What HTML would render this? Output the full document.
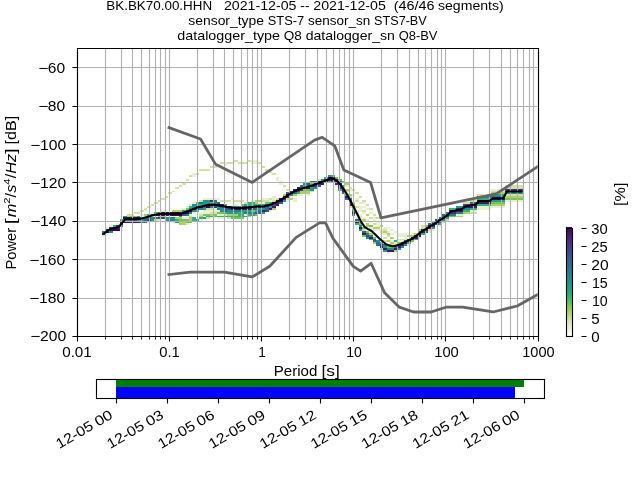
<!DOCTYPE html>
<html lang="en"><head><meta charset="utf-8"><title>PPSD BK.BK70.00.HHN</title>
<style>html,body{margin:0;padding:0;background:#fff;overflow:hidden}svg{display:block;will-change:transform}text{font-family:"Liberation Sans",sans-serif;fill:#000}</style></head><body>
<svg width="640" height="480" viewBox="0 0 640 480">
<rect x="0" y="0" width="640" height="480" fill="#fff"/>
<defs><clipPath id="axclip"><rect x="76.80" y="48.00" width="460.80" height="288.00"/></clipPath></defs>
<g clip-path="url(#axclip)" shape-rendering="crispEdges">
<rect x="234" y="160" width="4" height="2" fill="#d2e2a7"/>
<rect x="248" y="160" width="3" height="2" fill="#d2e2a7"/>
<rect x="251" y="160" width="7" height="2" fill="#e8f0d2"/>
<rect x="220" y="162" width="4" height="2" fill="#d2e2a7"/>
<rect x="224" y="162" width="3" height="2" fill="#e8f0d2"/>
<rect x="227" y="162" width="7" height="2" fill="#d2e2a7"/>
<rect x="238" y="162" width="10" height="2" fill="#d2e2a7"/>
<rect x="251" y="162" width="7" height="2" fill="#e8f0d2"/>
<rect x="258" y="162" width="4" height="2" fill="#d2e2a7"/>
<rect x="217" y="164" width="3" height="2" fill="#d2e2a7"/>
<rect x="224" y="164" width="3" height="2" fill="#e8f0d2"/>
<rect x="210" y="166" width="7" height="2" fill="#d2e2a7"/>
<rect x="262" y="166" width="3" height="2" fill="#d2e2a7"/>
<rect x="199" y="169" width="11" height="2" fill="#d2e2a7"/>
<rect x="265" y="169" width="4" height="2" fill="#d2e2a7"/>
<rect x="269" y="171" width="3" height="2" fill="#d2e2a7"/>
<rect x="192" y="173" width="4" height="2" fill="#e8f0d2"/>
<rect x="196" y="173" width="3" height="2" fill="#d2e2a7"/>
<rect x="272" y="173" width="4" height="2" fill="#d2e2a7"/>
<rect x="189" y="175" width="3" height="2" fill="#d2e2a7"/>
<rect x="192" y="175" width="4" height="2" fill="#e8f0d2"/>
<rect x="328" y="175" width="3" height="2" fill="#228f8c"/>
<rect x="331" y="175" width="4" height="2" fill="#2fb27c"/>
<rect x="276" y="177" width="3" height="2" fill="#e8f0d2"/>
<rect x="324" y="177" width="4" height="2" fill="#2fb27c"/>
<rect x="328" y="177" width="7" height="2" fill="#440154"/>
<rect x="335" y="177" width="3" height="2" fill="#71c655"/>
<rect x="186" y="179" width="3" height="2" fill="#d2e2a7"/>
<rect x="276" y="179" width="3" height="2" fill="#e8f0d2"/>
<rect x="317" y="179" width="4" height="2" fill="#d2e2a7"/>
<rect x="321" y="179" width="3" height="2" fill="#228f8c"/>
<rect x="324" y="179" width="7" height="2" fill="#471668"/>
<rect x="331" y="179" width="4" height="2" fill="#440154"/>
<rect x="335" y="179" width="3" height="2" fill="#471668"/>
<rect x="338" y="179" width="4" height="2" fill="#71c655"/>
<rect x="279" y="181" width="4" height="2" fill="#e8f0d2"/>
<rect x="307" y="181" width="3" height="2" fill="#e8f0d2"/>
<rect x="310" y="181" width="7" height="2" fill="#2f6b8e"/>
<rect x="317" y="181" width="7" height="2" fill="#440154"/>
<rect x="324" y="181" width="4" height="2" fill="#472e7c"/>
<rect x="328" y="181" width="3" height="2" fill="#2fb27c"/>
<rect x="331" y="181" width="4" height="2" fill="#2f6b8e"/>
<rect x="335" y="181" width="3" height="2" fill="#440154"/>
<rect x="338" y="181" width="4" height="2" fill="#38598c"/>
<rect x="342" y="181" width="3" height="2" fill="#71c655"/>
<rect x="182" y="183" width="4" height="2" fill="#d2e2a7"/>
<rect x="279" y="183" width="4" height="2" fill="#e8f0d2"/>
<rect x="303" y="183" width="4" height="2" fill="#228f8c"/>
<rect x="307" y="183" width="3" height="2" fill="#38598c"/>
<rect x="310" y="183" width="4" height="2" fill="#71c655"/>
<rect x="314" y="183" width="3" height="2" fill="#440154"/>
<rect x="317" y="183" width="4" height="2" fill="#472e7c"/>
<rect x="321" y="183" width="3" height="2" fill="#471668"/>
<rect x="335" y="183" width="7" height="2" fill="#472e7c"/>
<rect x="345" y="183" width="4" height="2" fill="#acd264"/>
<rect x="179" y="185" width="3" height="2" fill="#d2e2a7"/>
<rect x="283" y="185" width="3" height="2" fill="#d2e2a7"/>
<rect x="300" y="185" width="3" height="2" fill="#2f6b8e"/>
<rect x="303" y="185" width="4" height="2" fill="#2fb27c"/>
<rect x="307" y="185" width="3" height="2" fill="#228f8c"/>
<rect x="310" y="185" width="4" height="2" fill="#440154"/>
<rect x="314" y="185" width="3" height="2" fill="#472e7c"/>
<rect x="317" y="185" width="4" height="2" fill="#38598c"/>
<rect x="335" y="185" width="3" height="2" fill="#e8f0d2"/>
<rect x="338" y="185" width="4" height="2" fill="#472e7c"/>
<rect x="342" y="185" width="3" height="2" fill="#2fb27c"/>
<rect x="345" y="185" width="4" height="2" fill="#e8f0d2"/>
<rect x="505" y="185" width="18" height="2" fill="#d2e2a7"/>
<rect x="175" y="187" width="4" height="2" fill="#d2e2a7"/>
<rect x="297" y="187" width="3" height="2" fill="#471668"/>
<rect x="300" y="187" width="3" height="2" fill="#287d8e"/>
<rect x="303" y="187" width="7" height="2" fill="#440154"/>
<rect x="310" y="187" width="4" height="2" fill="#20a088"/>
<rect x="314" y="187" width="3" height="2" fill="#228f8c"/>
<rect x="338" y="187" width="7" height="2" fill="#472e7c"/>
<rect x="349" y="187" width="3" height="2" fill="#d2e2a7"/>
<rect x="505" y="187" width="18" height="2" fill="#d2e2a7"/>
<rect x="286" y="189" width="4" height="2" fill="#d2e2a7"/>
<rect x="293" y="189" width="4" height="2" fill="#471668"/>
<rect x="297" y="189" width="3" height="2" fill="#440154"/>
<rect x="300" y="189" width="3" height="2" fill="#472e7c"/>
<rect x="303" y="189" width="7" height="2" fill="#71c655"/>
<rect x="310" y="189" width="4" height="2" fill="#228f8c"/>
<rect x="338" y="189" width="4" height="2" fill="#2fb27c"/>
<rect x="342" y="189" width="3" height="2" fill="#472e7c"/>
<rect x="345" y="189" width="4" height="2" fill="#acd264"/>
<rect x="349" y="189" width="3" height="2" fill="#e8f0d2"/>
<rect x="352" y="189" width="3" height="2" fill="#d2e2a7"/>
<rect x="491" y="189" width="14" height="2" fill="#e8f0d2"/>
<rect x="505" y="189" width="18" height="2" fill="#472e7c"/>
<rect x="172" y="191" width="3" height="1" fill="#d2e2a7"/>
<rect x="290" y="191" width="3" height="1" fill="#472e7c"/>
<rect x="293" y="191" width="4" height="1" fill="#440154"/>
<rect x="297" y="191" width="3" height="1" fill="#38598c"/>
<rect x="300" y="191" width="10" height="1" fill="#acd264"/>
<rect x="310" y="191" width="4" height="1" fill="#d2e2a7"/>
<rect x="342" y="191" width="3" height="1" fill="#471668"/>
<rect x="345" y="191" width="4" height="1" fill="#d2e2a7"/>
<rect x="491" y="191" width="14" height="1" fill="#d2e2a7"/>
<rect x="505" y="191" width="18" height="1" fill="#471668"/>
<rect x="168" y="192" width="4" height="2" fill="#d2e2a7"/>
<rect x="286" y="192" width="4" height="2" fill="#38598c"/>
<rect x="290" y="192" width="3" height="2" fill="#440154"/>
<rect x="293" y="192" width="4" height="2" fill="#2f6b8e"/>
<rect x="297" y="192" width="3" height="2" fill="#2fb27c"/>
<rect x="300" y="192" width="10" height="2" fill="#acd264"/>
<rect x="342" y="192" width="3" height="2" fill="#2f6b8e"/>
<rect x="355" y="192" width="4" height="2" fill="#d2e2a7"/>
<rect x="491" y="192" width="14" height="2" fill="#acd264"/>
<rect x="505" y="192" width="18" height="2" fill="#228f8c"/>
<rect x="283" y="194" width="3" height="2" fill="#acd264"/>
<rect x="286" y="194" width="4" height="2" fill="#440154"/>
<rect x="290" y="194" width="3" height="2" fill="#228f8c"/>
<rect x="293" y="194" width="4" height="2" fill="#acd264"/>
<rect x="297" y="194" width="6" height="2" fill="#e8f0d2"/>
<rect x="307" y="194" width="3" height="2" fill="#e8f0d2"/>
<rect x="345" y="194" width="4" height="2" fill="#71c655"/>
<rect x="349" y="194" width="3" height="2" fill="#acd264"/>
<rect x="352" y="194" width="3" height="2" fill="#e8f0d2"/>
<rect x="477" y="194" width="7" height="2" fill="#d2e2a7"/>
<rect x="491" y="194" width="14" height="2" fill="#20a088"/>
<rect x="505" y="194" width="18" height="2" fill="#d2e2a7"/>
<rect x="165" y="196" width="3" height="2" fill="#d2e2a7"/>
<rect x="272" y="196" width="4" height="2" fill="#e8f0d2"/>
<rect x="283" y="196" width="3" height="2" fill="#440154"/>
<rect x="286" y="196" width="4" height="2" fill="#471668"/>
<rect x="290" y="196" width="3" height="2" fill="#e8f0d2"/>
<rect x="345" y="196" width="4" height="2" fill="#471668"/>
<rect x="349" y="196" width="3" height="2" fill="#d2e2a7"/>
<rect x="359" y="196" width="3" height="2" fill="#d2e2a7"/>
<rect x="477" y="196" width="14" height="2" fill="#287d8e"/>
<rect x="491" y="196" width="14" height="2" fill="#2f6b8e"/>
<rect x="505" y="196" width="18" height="2" fill="#acd264"/>
<rect x="161" y="198" width="4" height="2" fill="#d2e2a7"/>
<rect x="203" y="198" width="17" height="2" fill="#e8f0d2"/>
<rect x="231" y="198" width="3" height="2" fill="#e8f0d2"/>
<rect x="262" y="198" width="7" height="2" fill="#e8f0d2"/>
<rect x="269" y="198" width="3" height="2" fill="#d2e2a7"/>
<rect x="272" y="198" width="4" height="2" fill="#e8f0d2"/>
<rect x="276" y="198" width="3" height="2" fill="#d2e2a7"/>
<rect x="279" y="198" width="4" height="2" fill="#440154"/>
<rect x="283" y="198" width="3" height="2" fill="#472e7c"/>
<rect x="286" y="198" width="4" height="2" fill="#d2e2a7"/>
<rect x="290" y="198" width="3" height="2" fill="#acd264"/>
<rect x="293" y="198" width="4" height="2" fill="#e8f0d2"/>
<rect x="345" y="198" width="4" height="2" fill="#2f6b8e"/>
<rect x="349" y="198" width="3" height="2" fill="#287d8e"/>
<rect x="355" y="198" width="4" height="2" fill="#e8f0d2"/>
<rect x="477" y="198" width="14" height="2" fill="#2fb27c"/>
<rect x="491" y="198" width="14" height="2" fill="#471668"/>
<rect x="505" y="198" width="18" height="2" fill="#71c655"/>
<rect x="158" y="200" width="3" height="2" fill="#d2e2a7"/>
<rect x="199" y="200" width="4" height="2" fill="#d2e2a7"/>
<rect x="203" y="200" width="7" height="2" fill="#228f8c"/>
<rect x="210" y="200" width="3" height="2" fill="#472e7c"/>
<rect x="213" y="200" width="4" height="2" fill="#287d8e"/>
<rect x="220" y="200" width="11" height="2" fill="#d2e2a7"/>
<rect x="234" y="200" width="10" height="2" fill="#d2e2a7"/>
<rect x="251" y="200" width="4" height="2" fill="#e8f0d2"/>
<rect x="255" y="200" width="7" height="2" fill="#acd264"/>
<rect x="262" y="200" width="7" height="2" fill="#d2e2a7"/>
<rect x="269" y="200" width="3" height="2" fill="#e8f0d2"/>
<rect x="272" y="200" width="4" height="2" fill="#d2e2a7"/>
<rect x="276" y="200" width="7" height="2" fill="#440154"/>
<rect x="283" y="200" width="3" height="2" fill="#20a088"/>
<rect x="286" y="200" width="4" height="2" fill="#e8f0d2"/>
<rect x="293" y="200" width="4" height="2" fill="#e8f0d2"/>
<rect x="349" y="200" width="3" height="2" fill="#38598c"/>
<rect x="355" y="200" width="4" height="2" fill="#d2e2a7"/>
<rect x="362" y="200" width="4" height="2" fill="#d2e2a7"/>
<rect x="470" y="200" width="7" height="2" fill="#d2e2a7"/>
<rect x="477" y="200" width="14" height="2" fill="#471668"/>
<rect x="491" y="200" width="14" height="2" fill="#20a088"/>
<rect x="505" y="200" width="18" height="2" fill="#e8f0d2"/>
<rect x="154" y="202" width="4" height="2" fill="#d2e2a7"/>
<rect x="192" y="202" width="4" height="2" fill="#e8f0d2"/>
<rect x="196" y="202" width="3" height="2" fill="#2fb27c"/>
<rect x="199" y="202" width="4" height="2" fill="#2f6b8e"/>
<rect x="203" y="202" width="7" height="2" fill="#20a088"/>
<rect x="210" y="202" width="3" height="2" fill="#71c655"/>
<rect x="213" y="202" width="4" height="2" fill="#228f8c"/>
<rect x="217" y="202" width="3" height="2" fill="#38598c"/>
<rect x="244" y="202" width="4" height="2" fill="#d2e2a7"/>
<rect x="248" y="202" width="7" height="2" fill="#2fb27c"/>
<rect x="255" y="202" width="3" height="2" fill="#acd264"/>
<rect x="258" y="202" width="7" height="2" fill="#e8f0d2"/>
<rect x="265" y="202" width="4" height="2" fill="#71c655"/>
<rect x="269" y="202" width="3" height="2" fill="#2fb27c"/>
<rect x="272" y="202" width="4" height="2" fill="#440154"/>
<rect x="276" y="202" width="3" height="2" fill="#472e7c"/>
<rect x="279" y="202" width="4" height="2" fill="#2f6b8e"/>
<rect x="349" y="202" width="3" height="2" fill="#228f8c"/>
<rect x="352" y="202" width="3" height="2" fill="#acd264"/>
<rect x="359" y="202" width="7" height="2" fill="#e8f0d2"/>
<rect x="463" y="202" width="7" height="2" fill="#d2e2a7"/>
<rect x="470" y="202" width="7" height="2" fill="#2f6b8e"/>
<rect x="477" y="202" width="14" height="2" fill="#471668"/>
<rect x="491" y="202" width="14" height="2" fill="#71c655"/>
<rect x="151" y="204" width="3" height="2" fill="#d2e2a7"/>
<rect x="189" y="204" width="3" height="2" fill="#e8f0d2"/>
<rect x="192" y="204" width="4" height="2" fill="#228f8c"/>
<rect x="196" y="204" width="3" height="2" fill="#20a088"/>
<rect x="199" y="204" width="7" height="2" fill="#2fb27c"/>
<rect x="206" y="204" width="14" height="2" fill="#440154"/>
<rect x="220" y="204" width="4" height="2" fill="#471668"/>
<rect x="224" y="204" width="3" height="2" fill="#2fb27c"/>
<rect x="234" y="204" width="4" height="2" fill="#e8f0d2"/>
<rect x="241" y="204" width="3" height="2" fill="#71c655"/>
<rect x="244" y="204" width="4" height="2" fill="#20a088"/>
<rect x="248" y="204" width="10" height="2" fill="#2fb27c"/>
<rect x="258" y="204" width="7" height="2" fill="#20a088"/>
<rect x="265" y="204" width="7" height="2" fill="#472e7c"/>
<rect x="272" y="204" width="4" height="2" fill="#38598c"/>
<rect x="276" y="204" width="3" height="2" fill="#471668"/>
<rect x="349" y="204" width="3" height="2" fill="#471668"/>
<rect x="352" y="204" width="3" height="2" fill="#71c655"/>
<rect x="366" y="204" width="3" height="2" fill="#d2e2a7"/>
<rect x="463" y="204" width="7" height="2" fill="#414587"/>
<rect x="470" y="204" width="7" height="2" fill="#471668"/>
<rect x="477" y="204" width="14" height="2" fill="#2fb27c"/>
<rect x="491" y="204" width="14" height="2" fill="#acd264"/>
<rect x="147" y="206" width="4" height="2" fill="#d2e2a7"/>
<rect x="186" y="206" width="3" height="2" fill="#e8f0d2"/>
<rect x="189" y="206" width="3" height="2" fill="#2fb27c"/>
<rect x="192" y="206" width="4" height="2" fill="#228f8c"/>
<rect x="196" y="206" width="7" height="2" fill="#440154"/>
<rect x="203" y="206" width="3" height="2" fill="#2f6b8e"/>
<rect x="206" y="206" width="4" height="2" fill="#440154"/>
<rect x="210" y="206" width="3" height="2" fill="#287d8e"/>
<rect x="213" y="206" width="4" height="2" fill="#472e7c"/>
<rect x="217" y="206" width="3" height="2" fill="#2fb27c"/>
<rect x="220" y="206" width="4" height="2" fill="#2f6b8e"/>
<rect x="224" y="206" width="3" height="2" fill="#471668"/>
<rect x="227" y="206" width="4" height="2" fill="#440154"/>
<rect x="231" y="206" width="3" height="2" fill="#2f6b8e"/>
<rect x="234" y="206" width="7" height="2" fill="#228f8c"/>
<rect x="241" y="206" width="24" height="2" fill="#472e7c"/>
<rect x="265" y="206" width="4" height="2" fill="#2f6b8e"/>
<rect x="269" y="206" width="3" height="2" fill="#20a088"/>
<rect x="272" y="206" width="4" height="2" fill="#471668"/>
<rect x="349" y="206" width="3" height="2" fill="#d2e2a7"/>
<rect x="352" y="206" width="3" height="2" fill="#2fb27c"/>
<rect x="355" y="206" width="4" height="2" fill="#d2e2a7"/>
<rect x="359" y="206" width="7" height="2" fill="#e8f0d2"/>
<rect x="456" y="206" width="4" height="2" fill="#20a088"/>
<rect x="460" y="206" width="3" height="2" fill="#228f8c"/>
<rect x="463" y="206" width="14" height="2" fill="#471668"/>
<rect x="477" y="206" width="28" height="2" fill="#e8f0d2"/>
<rect x="144" y="208" width="3" height="2" fill="#d2e2a7"/>
<rect x="182" y="208" width="4" height="2" fill="#e8f0d2"/>
<rect x="186" y="208" width="3" height="2" fill="#71c655"/>
<rect x="189" y="208" width="3" height="2" fill="#287d8e"/>
<rect x="192" y="208" width="4" height="2" fill="#440154"/>
<rect x="196" y="208" width="3" height="2" fill="#38598c"/>
<rect x="199" y="208" width="4" height="2" fill="#287d8e"/>
<rect x="203" y="208" width="3" height="2" fill="#20a088"/>
<rect x="206" y="208" width="7" height="2" fill="#d2e2a7"/>
<rect x="213" y="208" width="4" height="2" fill="#e8f0d2"/>
<rect x="217" y="208" width="3" height="2" fill="#287d8e"/>
<rect x="220" y="208" width="4" height="2" fill="#228f8c"/>
<rect x="224" y="208" width="7" height="2" fill="#38598c"/>
<rect x="231" y="208" width="20" height="2" fill="#471668"/>
<rect x="251" y="208" width="4" height="2" fill="#38598c"/>
<rect x="255" y="208" width="3" height="2" fill="#2f6b8e"/>
<rect x="258" y="208" width="7" height="2" fill="#20a088"/>
<rect x="265" y="208" width="4" height="2" fill="#2f6b8e"/>
<rect x="269" y="208" width="3" height="2" fill="#471668"/>
<rect x="272" y="208" width="4" height="2" fill="#acd264"/>
<rect x="352" y="208" width="3" height="2" fill="#71c655"/>
<rect x="359" y="208" width="3" height="2" fill="#e8f0d2"/>
<rect x="366" y="208" width="3" height="2" fill="#e8f0d2"/>
<rect x="369" y="208" width="4" height="2" fill="#d2e2a7"/>
<rect x="449" y="208" width="7" height="2" fill="#2fb27c"/>
<rect x="456" y="208" width="4" height="2" fill="#472e7c"/>
<rect x="460" y="208" width="3" height="2" fill="#471668"/>
<rect x="463" y="208" width="7" height="2" fill="#228f8c"/>
<rect x="470" y="208" width="7" height="2" fill="#2fb27c"/>
<rect x="477" y="208" width="14" height="2" fill="#e8f0d2"/>
<rect x="140" y="210" width="4" height="2" fill="#d2e2a7"/>
<rect x="161" y="210" width="7" height="2" fill="#e8f0d2"/>
<rect x="172" y="210" width="10" height="2" fill="#acd264"/>
<rect x="182" y="210" width="7" height="2" fill="#228f8c"/>
<rect x="189" y="210" width="3" height="2" fill="#440154"/>
<rect x="192" y="210" width="4" height="2" fill="#228f8c"/>
<rect x="196" y="210" width="3" height="2" fill="#2fb27c"/>
<rect x="203" y="210" width="17" height="2" fill="#e8f0d2"/>
<rect x="220" y="210" width="4" height="2" fill="#228f8c"/>
<rect x="224" y="210" width="3" height="2" fill="#38598c"/>
<rect x="227" y="210" width="7" height="2" fill="#228f8c"/>
<rect x="234" y="210" width="7" height="2" fill="#287d8e"/>
<rect x="241" y="210" width="10" height="2" fill="#20a088"/>
<rect x="251" y="210" width="4" height="2" fill="#71c655"/>
<rect x="255" y="210" width="3" height="2" fill="#2fb27c"/>
<rect x="258" y="210" width="4" height="2" fill="#2f6b8e"/>
<rect x="262" y="210" width="3" height="2" fill="#471668"/>
<rect x="265" y="210" width="4" height="2" fill="#414587"/>
<rect x="269" y="210" width="3" height="2" fill="#e8f0d2"/>
<rect x="352" y="210" width="3" height="2" fill="#228f8c"/>
<rect x="355" y="210" width="7" height="2" fill="#e8f0d2"/>
<rect x="362" y="210" width="4" height="2" fill="#d2e2a7"/>
<rect x="449" y="210" width="14" height="2" fill="#471668"/>
<rect x="463" y="210" width="7" height="2" fill="#2fb27c"/>
<rect x="470" y="210" width="7" height="2" fill="#e8f0d2"/>
<rect x="134" y="212" width="6" height="2" fill="#d2e2a7"/>
<rect x="151" y="212" width="3" height="2" fill="#e8f0d2"/>
<rect x="154" y="212" width="4" height="2" fill="#2fb27c"/>
<rect x="158" y="212" width="3" height="2" fill="#2f6b8e"/>
<rect x="161" y="212" width="18" height="2" fill="#440154"/>
<rect x="179" y="212" width="3" height="2" fill="#471668"/>
<rect x="182" y="212" width="7" height="2" fill="#440154"/>
<rect x="189" y="212" width="3" height="2" fill="#287d8e"/>
<rect x="192" y="212" width="4" height="2" fill="#e8f0d2"/>
<rect x="199" y="212" width="11" height="2" fill="#e8f0d2"/>
<rect x="210" y="212" width="7" height="2" fill="#d2e2a7"/>
<rect x="217" y="212" width="7" height="2" fill="#71c655"/>
<rect x="224" y="212" width="3" height="2" fill="#2fb27c"/>
<rect x="227" y="212" width="11" height="2" fill="#20a088"/>
<rect x="238" y="212" width="6" height="2" fill="#2fb27c"/>
<rect x="244" y="212" width="7" height="2" fill="#287d8e"/>
<rect x="251" y="212" width="4" height="2" fill="#228f8c"/>
<rect x="255" y="212" width="3" height="2" fill="#38598c"/>
<rect x="258" y="212" width="4" height="2" fill="#2f6b8e"/>
<rect x="262" y="212" width="3" height="2" fill="#20a088"/>
<rect x="352" y="212" width="3" height="2" fill="#471668"/>
<rect x="355" y="212" width="4" height="2" fill="#d2e2a7"/>
<rect x="362" y="212" width="4" height="2" fill="#e8f0d2"/>
<rect x="369" y="212" width="4" height="2" fill="#e8f0d2"/>
<rect x="446" y="212" width="3" height="2" fill="#20a088"/>
<rect x="449" y="212" width="7" height="2" fill="#472e7c"/>
<rect x="456" y="212" width="7" height="2" fill="#287d8e"/>
<rect x="463" y="212" width="7" height="2" fill="#acd264"/>
<rect x="470" y="212" width="7" height="2" fill="#d2e2a7"/>
<rect x="127" y="214" width="7" height="2" fill="#d2e2a7"/>
<rect x="140" y="214" width="4" height="2" fill="#e8f0d2"/>
<rect x="144" y="214" width="3" height="2" fill="#acd264"/>
<rect x="147" y="214" width="4" height="2" fill="#2fb27c"/>
<rect x="151" y="214" width="3" height="2" fill="#414587"/>
<rect x="154" y="214" width="28" height="2" fill="#440154"/>
<rect x="182" y="214" width="4" height="2" fill="#38598c"/>
<rect x="186" y="214" width="3" height="2" fill="#287d8e"/>
<rect x="189" y="214" width="3" height="2" fill="#e8f0d2"/>
<rect x="199" y="214" width="4" height="2" fill="#d2e2a7"/>
<rect x="203" y="214" width="7" height="2" fill="#71c655"/>
<rect x="210" y="214" width="3" height="2" fill="#acd264"/>
<rect x="213" y="214" width="4" height="2" fill="#71c655"/>
<rect x="217" y="214" width="7" height="2" fill="#e8f0d2"/>
<rect x="224" y="214" width="3" height="2" fill="#d2e2a7"/>
<rect x="227" y="214" width="11" height="2" fill="#acd264"/>
<rect x="238" y="214" width="6" height="2" fill="#2fb27c"/>
<rect x="244" y="214" width="4" height="2" fill="#e8f0d2"/>
<rect x="248" y="214" width="3" height="2" fill="#2fb27c"/>
<rect x="251" y="214" width="4" height="2" fill="#20a088"/>
<rect x="255" y="214" width="3" height="2" fill="#71c655"/>
<rect x="352" y="214" width="3" height="2" fill="#228f8c"/>
<rect x="359" y="214" width="3" height="2" fill="#e8f0d2"/>
<rect x="366" y="214" width="3" height="2" fill="#acd264"/>
<rect x="373" y="214" width="3" height="2" fill="#d2e2a7"/>
<rect x="442" y="214" width="4" height="2" fill="#2f6b8e"/>
<rect x="446" y="214" width="3" height="2" fill="#471668"/>
<rect x="449" y="214" width="7" height="2" fill="#287d8e"/>
<rect x="456" y="214" width="7" height="2" fill="#e8f0d2"/>
<rect x="120" y="216" width="3" height="1" fill="#e8f0d2"/>
<rect x="123" y="216" width="4" height="1" fill="#20a088"/>
<rect x="127" y="216" width="3" height="1" fill="#acd264"/>
<rect x="130" y="216" width="7" height="1" fill="#71c655"/>
<rect x="137" y="216" width="3" height="1" fill="#228f8c"/>
<rect x="158" y="216" width="7" height="1" fill="#acd264"/>
<rect x="179" y="216" width="3" height="1" fill="#2fb27c"/>
<rect x="189" y="216" width="3" height="1" fill="#d2e2a7"/>
<rect x="199" y="216" width="4" height="1" fill="#acd264"/>
<rect x="206" y="216" width="7" height="1" fill="#2fb27c"/>
<rect x="213" y="216" width="4" height="1" fill="#71c655"/>
<rect x="217" y="216" width="27" height="1" fill="#2fb27c"/>
<rect x="244" y="216" width="4" height="1" fill="#20a088"/>
<rect x="248" y="216" width="3" height="1" fill="#acd264"/>
<rect x="359" y="216" width="3" height="1" fill="#d2e2a7"/>
<rect x="442" y="216" width="4" height="1" fill="#38598c"/>
<rect x="446" y="216" width="3" height="1" fill="#472e7c"/>
<rect x="449" y="216" width="7" height="1" fill="#71c655"/>
<rect x="456" y="216" width="7" height="1" fill="#acd264"/>
<rect x="123" y="217" width="17" height="2" fill="#440154"/>
<rect x="140" y="217" width="7" height="2" fill="#287d8e"/>
<rect x="147" y="217" width="4" height="2" fill="#2f6b8e"/>
<rect x="151" y="217" width="3" height="2" fill="#228f8c"/>
<rect x="154" y="217" width="4" height="2" fill="#2f6b8e"/>
<rect x="158" y="217" width="7" height="2" fill="#414587"/>
<rect x="165" y="217" width="10" height="2" fill="#228f8c"/>
<rect x="175" y="217" width="7" height="2" fill="#acd264"/>
<rect x="182" y="217" width="7" height="2" fill="#e8f0d2"/>
<rect x="189" y="217" width="3" height="2" fill="#acd264"/>
<rect x="192" y="217" width="4" height="2" fill="#2fb27c"/>
<rect x="199" y="217" width="4" height="2" fill="#2fb27c"/>
<rect x="203" y="217" width="3" height="2" fill="#20a088"/>
<rect x="206" y="217" width="4" height="2" fill="#d2e2a7"/>
<rect x="217" y="217" width="7" height="2" fill="#e8f0d2"/>
<rect x="227" y="217" width="4" height="2" fill="#d2e2a7"/>
<rect x="231" y="217" width="13" height="2" fill="#71c655"/>
<rect x="355" y="217" width="11" height="2" fill="#e8f0d2"/>
<rect x="369" y="217" width="4" height="2" fill="#d2e2a7"/>
<rect x="373" y="217" width="3" height="2" fill="#e8f0d2"/>
<rect x="376" y="217" width="4" height="2" fill="#d2e2a7"/>
<rect x="439" y="217" width="3" height="2" fill="#2f6b8e"/>
<rect x="442" y="217" width="4" height="2" fill="#471668"/>
<rect x="446" y="217" width="3" height="2" fill="#20a088"/>
<rect x="120" y="219" width="10" height="2" fill="#20a088"/>
<rect x="130" y="219" width="7" height="2" fill="#2f6b8e"/>
<rect x="137" y="219" width="3" height="2" fill="#2fb27c"/>
<rect x="140" y="219" width="4" height="2" fill="#228f8c"/>
<rect x="144" y="219" width="3" height="2" fill="#2f6b8e"/>
<rect x="147" y="219" width="4" height="2" fill="#414587"/>
<rect x="151" y="219" width="3" height="2" fill="#228f8c"/>
<rect x="154" y="219" width="4" height="2" fill="#d2e2a7"/>
<rect x="158" y="219" width="3" height="2" fill="#e8f0d2"/>
<rect x="165" y="219" width="3" height="2" fill="#20a088"/>
<rect x="168" y="219" width="7" height="2" fill="#228f8c"/>
<rect x="175" y="219" width="4" height="2" fill="#2fb27c"/>
<rect x="179" y="219" width="10" height="2" fill="#71c655"/>
<rect x="189" y="219" width="3" height="2" fill="#acd264"/>
<rect x="192" y="219" width="4" height="2" fill="#2fb27c"/>
<rect x="196" y="219" width="3" height="2" fill="#20a088"/>
<rect x="199" y="219" width="4" height="2" fill="#e8f0d2"/>
<rect x="355" y="219" width="4" height="2" fill="#2f6b8e"/>
<rect x="359" y="219" width="3" height="2" fill="#e8f0d2"/>
<rect x="362" y="219" width="4" height="2" fill="#acd264"/>
<rect x="366" y="219" width="3" height="2" fill="#e8f0d2"/>
<rect x="373" y="219" width="3" height="2" fill="#e8f0d2"/>
<rect x="435" y="219" width="4" height="2" fill="#472e7c"/>
<rect x="439" y="219" width="3" height="2" fill="#471668"/>
<rect x="442" y="219" width="4" height="2" fill="#228f8c"/>
<rect x="446" y="219" width="3" height="2" fill="#d2e2a7"/>
<rect x="120" y="221" width="20" height="2" fill="#471668"/>
<rect x="140" y="221" width="7" height="2" fill="#2f6b8e"/>
<rect x="172" y="221" width="3" height="2" fill="#e8f0d2"/>
<rect x="175" y="221" width="4" height="2" fill="#20a088"/>
<rect x="179" y="221" width="7" height="2" fill="#acd264"/>
<rect x="186" y="221" width="6" height="2" fill="#71c655"/>
<rect x="355" y="221" width="4" height="2" fill="#471668"/>
<rect x="359" y="221" width="3" height="2" fill="#acd264"/>
<rect x="369" y="221" width="4" height="2" fill="#e8f0d2"/>
<rect x="376" y="221" width="4" height="2" fill="#e8f0d2"/>
<rect x="432" y="221" width="3" height="2" fill="#228f8c"/>
<rect x="435" y="221" width="4" height="2" fill="#471668"/>
<rect x="439" y="221" width="3" height="2" fill="#2f6b8e"/>
<rect x="442" y="221" width="4" height="2" fill="#d2e2a7"/>
<rect x="116" y="223" width="4" height="2" fill="#e8f0d2"/>
<rect x="120" y="223" width="3" height="2" fill="#471668"/>
<rect x="179" y="223" width="7" height="2" fill="#acd264"/>
<rect x="186" y="223" width="3" height="2" fill="#e8f0d2"/>
<rect x="355" y="223" width="4" height="2" fill="#2fb27c"/>
<rect x="359" y="223" width="3" height="2" fill="#71c655"/>
<rect x="366" y="223" width="3" height="2" fill="#acd264"/>
<rect x="373" y="223" width="3" height="2" fill="#d2e2a7"/>
<rect x="376" y="223" width="4" height="2" fill="#e8f0d2"/>
<rect x="428" y="223" width="4" height="2" fill="#2f6b8e"/>
<rect x="432" y="223" width="3" height="2" fill="#471668"/>
<rect x="435" y="223" width="4" height="2" fill="#38598c"/>
<rect x="439" y="223" width="3" height="2" fill="#2fb27c"/>
<rect x="109" y="225" width="4" height="2" fill="#e8f0d2"/>
<rect x="113" y="225" width="3" height="2" fill="#2fb27c"/>
<rect x="116" y="225" width="4" height="2" fill="#472e7c"/>
<rect x="120" y="225" width="3" height="2" fill="#2f6b8e"/>
<rect x="359" y="225" width="3" height="2" fill="#228f8c"/>
<rect x="366" y="225" width="3" height="2" fill="#acd264"/>
<rect x="369" y="225" width="4" height="2" fill="#71c655"/>
<rect x="376" y="225" width="4" height="2" fill="#e8f0d2"/>
<rect x="380" y="225" width="3" height="2" fill="#acd264"/>
<rect x="421" y="225" width="4" height="2" fill="#d2e2a7"/>
<rect x="425" y="225" width="3" height="2" fill="#71c655"/>
<rect x="428" y="225" width="7" height="2" fill="#471668"/>
<rect x="439" y="225" width="3" height="2" fill="#e8f0d2"/>
<rect x="106" y="227" width="3" height="2" fill="#e8f0d2"/>
<rect x="109" y="227" width="11" height="2" fill="#472e7c"/>
<rect x="359" y="227" width="3" height="2" fill="#471668"/>
<rect x="362" y="227" width="4" height="2" fill="#71c655"/>
<rect x="369" y="227" width="4" height="2" fill="#e8f0d2"/>
<rect x="373" y="227" width="7" height="2" fill="#acd264"/>
<rect x="383" y="227" width="7" height="2" fill="#e8f0d2"/>
<rect x="421" y="227" width="4" height="2" fill="#d2e2a7"/>
<rect x="425" y="227" width="7" height="2" fill="#471668"/>
<rect x="432" y="227" width="3" height="2" fill="#20a088"/>
<rect x="106" y="229" width="3" height="2" fill="#472e7c"/>
<rect x="109" y="229" width="11" height="2" fill="#440154"/>
<rect x="359" y="229" width="3" height="2" fill="#228f8c"/>
<rect x="362" y="229" width="4" height="2" fill="#d2e2a7"/>
<rect x="373" y="229" width="10" height="2" fill="#e8f0d2"/>
<rect x="383" y="229" width="4" height="2" fill="#d2e2a7"/>
<rect x="390" y="229" width="4" height="2" fill="#e8f0d2"/>
<rect x="418" y="229" width="3" height="2" fill="#acd264"/>
<rect x="421" y="229" width="7" height="2" fill="#471668"/>
<rect x="428" y="229" width="4" height="2" fill="#d2e2a7"/>
<rect x="432" y="229" width="3" height="2" fill="#e8f0d2"/>
<rect x="102" y="231" width="4" height="2" fill="#287d8e"/>
<rect x="106" y="231" width="3" height="2" fill="#440154"/>
<rect x="109" y="231" width="4" height="2" fill="#228f8c"/>
<rect x="362" y="231" width="4" height="2" fill="#38598c"/>
<rect x="366" y="231" width="3" height="2" fill="#71c655"/>
<rect x="380" y="231" width="3" height="2" fill="#d2e2a7"/>
<rect x="383" y="231" width="4" height="2" fill="#acd264"/>
<rect x="387" y="231" width="3" height="2" fill="#e8f0d2"/>
<rect x="394" y="231" width="3" height="2" fill="#e8f0d2"/>
<rect x="418" y="231" width="3" height="2" fill="#287d8e"/>
<rect x="421" y="231" width="4" height="2" fill="#471668"/>
<rect x="425" y="231" width="3" height="2" fill="#38598c"/>
<rect x="428" y="231" width="4" height="2" fill="#e8f0d2"/>
<rect x="102" y="233" width="4" height="2" fill="#440154"/>
<rect x="362" y="233" width="4" height="2" fill="#471668"/>
<rect x="366" y="233" width="3" height="2" fill="#287d8e"/>
<rect x="369" y="233" width="4" height="2" fill="#acd264"/>
<rect x="380" y="233" width="7" height="2" fill="#e8f0d2"/>
<rect x="387" y="233" width="3" height="2" fill="#acd264"/>
<rect x="390" y="233" width="4" height="2" fill="#e8f0d2"/>
<rect x="397" y="233" width="10" height="2" fill="#e8f0d2"/>
<rect x="411" y="233" width="3" height="2" fill="#e8f0d2"/>
<rect x="414" y="233" width="4" height="2" fill="#acd264"/>
<rect x="418" y="233" width="3" height="2" fill="#471668"/>
<rect x="421" y="233" width="4" height="2" fill="#2fb27c"/>
<rect x="102" y="235" width="4" height="2" fill="#e8f0d2"/>
<rect x="362" y="235" width="4" height="2" fill="#71c655"/>
<rect x="366" y="235" width="3" height="2" fill="#414587"/>
<rect x="369" y="235" width="4" height="2" fill="#287d8e"/>
<rect x="387" y="235" width="3" height="2" fill="#d2e2a7"/>
<rect x="397" y="235" width="10" height="2" fill="#e8f0d2"/>
<rect x="407" y="235" width="7" height="2" fill="#acd264"/>
<rect x="414" y="235" width="7" height="2" fill="#471668"/>
<rect x="366" y="237" width="3" height="2" fill="#228f8c"/>
<rect x="369" y="237" width="4" height="2" fill="#471668"/>
<rect x="373" y="237" width="3" height="2" fill="#71c655"/>
<rect x="383" y="237" width="4" height="2" fill="#d2e2a7"/>
<rect x="390" y="237" width="4" height="2" fill="#acd264"/>
<rect x="404" y="237" width="3" height="2" fill="#e8f0d2"/>
<rect x="411" y="237" width="7" height="2" fill="#471668"/>
<rect x="418" y="237" width="3" height="2" fill="#e8f0d2"/>
<rect x="369" y="239" width="4" height="1" fill="#2fb27c"/>
<rect x="373" y="239" width="3" height="1" fill="#38598c"/>
<rect x="397" y="239" width="10" height="1" fill="#d2e2a7"/>
<rect x="407" y="239" width="4" height="1" fill="#471668"/>
<rect x="411" y="239" width="3" height="1" fill="#472e7c"/>
<rect x="414" y="239" width="4" height="1" fill="#2fb27c"/>
<rect x="373" y="240" width="3" height="2" fill="#38598c"/>
<rect x="376" y="240" width="4" height="2" fill="#228f8c"/>
<rect x="383" y="240" width="4" height="2" fill="#d2e2a7"/>
<rect x="387" y="240" width="3" height="2" fill="#acd264"/>
<rect x="390" y="240" width="4" height="2" fill="#e8f0d2"/>
<rect x="394" y="240" width="3" height="2" fill="#2fb27c"/>
<rect x="397" y="240" width="7" height="2" fill="#e8f0d2"/>
<rect x="404" y="240" width="3" height="2" fill="#38598c"/>
<rect x="407" y="240" width="4" height="2" fill="#471668"/>
<rect x="411" y="240" width="3" height="2" fill="#71c655"/>
<rect x="373" y="242" width="3" height="2" fill="#acd264"/>
<rect x="376" y="242" width="4" height="2" fill="#2f6b8e"/>
<rect x="380" y="242" width="3" height="2" fill="#2fb27c"/>
<rect x="390" y="242" width="4" height="2" fill="#acd264"/>
<rect x="394" y="242" width="3" height="2" fill="#e8f0d2"/>
<rect x="397" y="242" width="4" height="2" fill="#71c655"/>
<rect x="401" y="242" width="3" height="2" fill="#287d8e"/>
<rect x="404" y="242" width="3" height="2" fill="#471668"/>
<rect x="407" y="242" width="4" height="2" fill="#2fb27c"/>
<rect x="376" y="244" width="4" height="2" fill="#2f6b8e"/>
<rect x="380" y="244" width="3" height="2" fill="#472e7c"/>
<rect x="383" y="244" width="4" height="2" fill="#287d8e"/>
<rect x="387" y="244" width="7" height="2" fill="#d2e2a7"/>
<rect x="394" y="244" width="3" height="2" fill="#acd264"/>
<rect x="397" y="244" width="4" height="2" fill="#472e7c"/>
<rect x="401" y="244" width="3" height="2" fill="#471668"/>
<rect x="404" y="244" width="3" height="2" fill="#228f8c"/>
<rect x="407" y="244" width="4" height="2" fill="#e8f0d2"/>
<rect x="380" y="246" width="3" height="2" fill="#471668"/>
<rect x="383" y="246" width="4" height="2" fill="#228f8c"/>
<rect x="387" y="246" width="7" height="2" fill="#71c655"/>
<rect x="394" y="246" width="3" height="2" fill="#2f6b8e"/>
<rect x="397" y="246" width="4" height="2" fill="#471668"/>
<rect x="401" y="246" width="3" height="2" fill="#228f8c"/>
<rect x="380" y="248" width="3" height="2" fill="#d2e2a7"/>
<rect x="383" y="248" width="4" height="2" fill="#471668"/>
<rect x="387" y="248" width="7" height="2" fill="#228f8c"/>
<rect x="394" y="248" width="3" height="2" fill="#471668"/>
<rect x="397" y="248" width="4" height="2" fill="#228f8c"/>
<rect x="383" y="250" width="4" height="2" fill="#20a088"/>
<rect x="387" y="250" width="7" height="2" fill="#471668"/>
<rect x="394" y="250" width="3" height="2" fill="#acd264"/>
<rect x="387" y="252" width="3" height="2" fill="#e8f0d2"/>
</g>
<path d="M77.5 48.0V336.0M105.5 48.0V336.0M121.5 48.0V336.0M132.5 48.0V336.0M141.5 48.0V336.0M149.5 48.0V336.0M155.5 48.0V336.0M160.5 48.0V336.0M165.5 48.0V336.0M169.5 48.0V336.0M197.5 48.0V336.0M213.5 48.0V336.0M224.5 48.0V336.0M233.5 48.0V336.0M241.5 48.0V336.0M247.5 48.0V336.0M252.5 48.0V336.0M257.5 48.0V336.0M261.5 48.0V336.0M289.5 48.0V336.0M305.5 48.0V336.0M317.5 48.0V336.0M326.5 48.0V336.0M333.5 48.0V336.0M339.5 48.0V336.0M344.5 48.0V336.0M349.5 48.0V336.0M353.5 48.0V336.0M381.5 48.0V336.0M397.5 48.0V336.0M409.5 48.0V336.0M418.5 48.0V336.0M425.5 48.0V336.0M431.5 48.0V336.0M437.5 48.0V336.0M441.5 48.0V336.0M445.5 48.0V336.0M473.5 48.0V336.0M489.5 48.0V336.0M501.5 48.0V336.0M510.5 48.0V336.0M517.5 48.0V336.0M523.5 48.0V336.0M529.5 48.0V336.0M533.5 48.0V336.0M538.5 48.0V336.0M76.8 336.5H537.6M76.8 298.5H537.6M76.8 259.5H537.6M76.8 221.5H537.6M76.8 182.5H537.6M76.8 144.5H537.6M76.8 106.5H537.6M76.8 67.5H537.6" stroke="#b0b0b0" stroke-width="1.111" fill="none"/>
<g clip-path="url(#axclip)" fill="none" stroke-linejoin="round">
<polyline points="104.54,233.09 108.01,230.40 111.48,228.67 114.95,227.90 118.41,227.33 121.88,223.10 125.35,219.26 128.82,219.26 132.29,219.26 135.75,219.17 139.22,218.88 142.69,218.30 146.16,217.15 149.63,216.19 153.09,215.23 156.56,214.46 160.03,213.98 163.50,213.89 166.96,213.89 170.43,213.89 173.90,213.89 177.37,213.89 180.84,213.89 184.30,212.54 187.77,211.20 191.24,209.86 194.71,208.51 198.18,207.17 201.64,206.40 205.11,205.44 208.58,204.86 212.05,204.48 215.51,204.67 218.98,205.63 222.45,206.02 225.92,206.78 229.39,207.36 232.85,207.74 236.32,208.13 239.79,208.13 243.26,207.94 246.73,207.65 250.19,207.17 253.66,206.78 257.13,206.21 260.60,206.50 264.06,206.21 267.53,205.54 271.00,204.58 274.47,203.14 277.94,201.50 281.40,199.49 284.87,197.28 288.34,194.88 291.81,192.96 295.28,191.04 298.74,189.50 302.21,188.35 305.68,187.39 309.15,186.24 312.61,185.28 316.08,184.13 319.55,182.88 323.02,181.63 326.49,180.29 329.95,178.56 333.42,178.56 336.89,180.86 340.36,184.51 343.83,189.31 347.29,194.88 350.76,201.41 354.23,207.94 357.70,215.04 361.16,221.95 364.63,226.94 368.10,229.15 371.57,230.98 375.04,234.24 378.50,237.70 381.97,240.77 385.44,243.84 388.91,245.38 392.38,246.24 395.84,245.76 399.31,244.80 402.78,243.07 406.25,241.54 409.72,239.81 413.18,237.89 416.65,235.58 420.12,232.70 423.59,230.40 427.05,228.48 430.52,225.98 433.99,224.06 437.46,221.76 440.93,219.65 444.39,217.34 447.86,214.66 451.33,211.20 454.80,210.82 458.27,209.86 461.73,209.28 465.20,206.59 468.67,205.82 472.14,205.06 475.60,204.48 479.07,201.12 482.54,200.93 486.01,200.93 489.48,200.93 492.94,198.34 496.41,198.34 499.88,198.34 503.35,198.34 506.82,191.42 510.28,191.42 513.75,191.42 517.22,191.42 520.69,191.42" stroke="#000" stroke-width="2.083" stroke-linecap="square"/>
<polyline points="168.96,127.68 200.52,139.02 215.51,164.16 252.19,182.40 314.55,140.16 322.20,137.28 334.79,145.92 343.85,169.91 370.56,182.40 381.02,217.91 496.13,193.93 629.76,105.87" stroke="#666" stroke-width="2.778" stroke-linecap="square"/>
<polyline points="168.96,274.56 190.20,272.06 224.45,272.06 252.19,276.87 269.73,266.30 296.16,237.40 319.50,222.91 325.54,222.90 332.83,238.08 353.28,266.40 360.58,271.19 371.08,263.29 384.66,292.81 399.33,307.19 413.48,312.00 431.16,312.00 445.84,307.20 462.72,307.18 492.98,311.98 517.15,306.01 629.76,243.61" stroke="#666" stroke-width="2.778" stroke-linecap="square"/>
</g>
<path d="M77.5 47.945V337.055M538.5 47.945V337.055M76.945 48.5H539.055M76.945 336.5H539.055M77.5 336.50V341.50M169.5 336.50V341.50M261.5 336.50V341.50M353.5 336.50V341.50M445.5 336.50V341.50M538.5 336.50V341.50M72.44 336.5H77.30M72.44 298.5H77.30M72.44 259.5H77.30M72.44 221.5H77.30M72.44 182.5H77.30M72.44 144.5H77.30M72.44 106.5H77.30M72.44 67.5H77.30" stroke="#000" stroke-width="1.111" fill="none"/>
<path d="M105.5 336.50V339.50M121.5 336.50V339.50M132.5 336.50V339.50M141.5 336.50V339.50M149.5 336.50V339.50M155.5 336.50V339.50M160.5 336.50V339.50M165.5 336.50V339.50M197.5 336.50V339.50M213.5 336.50V339.50M224.5 336.50V339.50M233.5 336.50V339.50M241.5 336.50V339.50M247.5 336.50V339.50M252.5 336.50V339.50M257.5 336.50V339.50M289.5 336.50V339.50M305.5 336.50V339.50M317.5 336.50V339.50M326.5 336.50V339.50M333.5 336.50V339.50M339.5 336.50V339.50M344.5 336.50V339.50M349.5 336.50V339.50M381.5 336.50V339.50M397.5 336.50V339.50M409.5 336.50V339.50M418.5 336.50V339.50M425.5 336.50V339.50M431.5 336.50V339.50M437.5 336.50V339.50M441.5 336.50V339.50M473.5 336.50V339.50M489.5 336.50V339.50M501.5 336.50V339.50M510.5 336.50V339.50M517.5 336.50V339.50M523.5 336.50V339.50M529.5 336.50V339.50M533.5 336.50V339.50" stroke="#000" stroke-width="0.833" fill="none"/>
<defs><linearGradient id="cb" x1="0" y1="1" x2="0" y2="0">
<stop offset="0.0000" stop-color="#ffffff"/>
<stop offset="0.0167" stop-color="#fafcf4"/>
<stop offset="0.0333" stop-color="#f5f9e8"/>
<stop offset="0.0500" stop-color="#eff5df"/>
<stop offset="0.0667" stop-color="#eaf1d5"/>
<stop offset="0.0833" stop-color="#e5eecd"/>
<stop offset="0.1000" stop-color="#e1ebc5"/>
<stop offset="0.1167" stop-color="#dce8bb"/>
<stop offset="0.1333" stop-color="#d6e4af"/>
<stop offset="0.1500" stop-color="#d1e1a4"/>
<stop offset="0.1667" stop-color="#c9dd94"/>
<stop offset="0.1833" stop-color="#c0d983"/>
<stop offset="0.2000" stop-color="#b7d571"/>
<stop offset="0.2167" stop-color="#add264"/>
<stop offset="0.2333" stop-color="#a2cf58"/>
<stop offset="0.2500" stop-color="#98cc4c"/>
<stop offset="0.2667" stop-color="#88ca4e"/>
<stop offset="0.2833" stop-color="#78c752"/>
<stop offset="0.3000" stop-color="#66c45a"/>
<stop offset="0.3167" stop-color="#53c162"/>
<stop offset="0.3333" stop-color="#42bc6e"/>
<stop offset="0.3500" stop-color="#34b67a"/>
<stop offset="0.3667" stop-color="#2db17d"/>
<stop offset="0.3833" stop-color="#27ac81"/>
<stop offset="0.4000" stop-color="#22a784"/>
<stop offset="0.4167" stop-color="#21a486"/>
<stop offset="0.4333" stop-color="#20a088"/>
<stop offset="0.4500" stop-color="#1f9c89"/>
<stop offset="0.4667" stop-color="#20998a"/>
<stop offset="0.4833" stop-color="#20958b"/>
<stop offset="0.5000" stop-color="#21918c"/>
<stop offset="0.5167" stop-color="#228d8d"/>
<stop offset="0.5333" stop-color="#24888d"/>
<stop offset="0.5500" stop-color="#25848e"/>
<stop offset="0.5667" stop-color="#27808e"/>
<stop offset="0.5833" stop-color="#287c8e"/>
<stop offset="0.6000" stop-color="#2a788e"/>
<stop offset="0.6167" stop-color="#2c748e"/>
<stop offset="0.6333" stop-color="#2d708e"/>
<stop offset="0.6500" stop-color="#2f6c8e"/>
<stop offset="0.6667" stop-color="#31688e"/>
<stop offset="0.6833" stop-color="#33638d"/>
<stop offset="0.7000" stop-color="#355f8d"/>
<stop offset="0.7167" stop-color="#375b8c"/>
<stop offset="0.7333" stop-color="#39568c"/>
<stop offset="0.7500" stop-color="#3b528b"/>
<stop offset="0.7667" stop-color="#3d4d8a"/>
<stop offset="0.7833" stop-color="#3f4988"/>
<stop offset="0.8000" stop-color="#414487"/>
<stop offset="0.8167" stop-color="#433f85"/>
<stop offset="0.8333" stop-color="#443982"/>
<stop offset="0.8500" stop-color="#463480"/>
<stop offset="0.8667" stop-color="#472f7c"/>
<stop offset="0.8833" stop-color="#472979"/>
<stop offset="0.9000" stop-color="#482475"/>
<stop offset="0.9167" stop-color="#481e70"/>
<stop offset="0.9333" stop-color="#47196a"/>
<stop offset="0.9500" stop-color="#471365"/>
<stop offset="0.9667" stop-color="#460d5f"/>
<stop offset="0.9833" stop-color="#45075a"/>
<stop offset="1.0000" stop-color="#440154"/>
</linearGradient></defs>
<rect x="566.00" y="227.00" width="6.00" height="109.00" fill="url(#cb)" shape-rendering="crispEdges"/>
<rect x="566.50" y="228.50" width="6.00" height="108.00" fill="none" stroke="#000" stroke-width="1.111"/>
<path d="M581.50 336.5H586.50M581.50 318.5H586.50M581.50 300.5H586.50M581.50 282.5H586.50M581.50 264.5H586.50M581.50 246.5H586.50M581.50 228.5H586.50" stroke="#000" stroke-width="1.111" fill="none"/>
<rect x="116" y="380" width="408" height="7" fill="#008000" shape-rendering="crispEdges"/>
<rect x="116" y="387" width="399" height="11" fill="#0000ff" shape-rendering="crispEdges"/>
<rect x="96.5" y="379.5" width="448" height="19" fill="none" stroke="#000" stroke-width="1.111"/>
<path d="M116.5 399.00V403.50M167.5 399.00V403.50M218.5 399.00V403.50M269.5 399.00V403.50M320.5 399.00V403.50M371.5 399.00V403.50M422.5 399.00V403.50M473.5 399.00V403.50M524.5 399.00V403.50" stroke="#000" stroke-width="1.111" fill="none"/>
<text x="106.30" y="9.70" font-size="12.70"><tspan x="106.30" textLength="105.82" lengthAdjust="spacingAndGlyphs">BK.BK70.00.HHN</tspan><tspan x="223.92" textLength="72.58" lengthAdjust="spacingAndGlyphs">2021-12-05</tspan><tspan x="300.30" textLength="9.20" lengthAdjust="spacingAndGlyphs">--</tspan><tspan x="313.30" textLength="72.58" lengthAdjust="spacingAndGlyphs">2021-12-05</tspan><tspan x="393.68" textLength="40.82" lengthAdjust="spacingAndGlyphs">(46/46</tspan><tspan x="438.00" textLength="65.75" lengthAdjust="spacingAndGlyphs">segments)</tspan></text>
<text x="188.30" y="25.00" font-size="12.70"><tspan x="188.30" textLength="75.70" lengthAdjust="spacingAndGlyphs">sensor_type</tspan><tspan x="267.80" textLength="36.45" lengthAdjust="spacingAndGlyphs">STS-7</tspan><tspan x="308.05" textLength="62.20" lengthAdjust="spacingAndGlyphs">sensor_sn</tspan><tspan x="374.05" textLength="52.70" lengthAdjust="spacingAndGlyphs">STS7-BV</tspan></text>
<text x="177.30" y="39.80" font-size="12.70"><tspan x="177.30" textLength="102.70" lengthAdjust="spacingAndGlyphs">datalogger_type</tspan><tspan x="283.80" textLength="18.08" lengthAdjust="spacingAndGlyphs">Q8</tspan><tspan x="305.68" textLength="89.20" lengthAdjust="spacingAndGlyphs">datalogger_sn</tspan><tspan x="398.68" textLength="38.82" lengthAdjust="spacingAndGlyphs">Q8-BV</tspan></text>
<text x="273.80" y="376.00" font-size="14.10"><tspan x="273.80" textLength="43.58" lengthAdjust="spacingAndGlyphs">Period</tspan><tspan x="321.55" textLength="18.32" lengthAdjust="spacingAndGlyphs">[s]</tspan></text>
<text x="62.20" y="357.00" font-size="14.10" textLength="29.60" lengthAdjust="spacingAndGlyphs" xml:space="preserve">0.01</text>
<text x="159.20" y="357.00" font-size="14.10" textLength="20.60" lengthAdjust="spacingAndGlyphs" xml:space="preserve">0.1</text>
<text x="258.20" y="357.00" font-size="14.10" textLength="7.60" lengthAdjust="spacingAndGlyphs" xml:space="preserve">1</text>
<text x="346.20" y="357.00" font-size="14.10" textLength="15.60" lengthAdjust="spacingAndGlyphs" xml:space="preserve">10</text>
<text x="434.20" y="357.00" font-size="14.10" textLength="24.60" lengthAdjust="spacingAndGlyphs" xml:space="preserve">100</text>
<text x="522.20" y="357.00" font-size="14.10" textLength="32.40" lengthAdjust="spacingAndGlyphs" xml:space="preserve">1000</text>
<text x="0.00" y="73.00" font-size="14.10"><tspan x="38.19" textLength="10.00" lengthAdjust="spacingAndGlyphs">−</tspan><tspan x="47.83" textLength="17.37" lengthAdjust="spacingAndGlyphs">60</tspan></text>
<text x="0.00" y="111.00" font-size="14.10"><tspan x="38.19" textLength="10.00" lengthAdjust="spacingAndGlyphs">−</tspan><tspan x="47.83" textLength="17.37" lengthAdjust="spacingAndGlyphs">80</tspan></text>
<text x="0.00" y="150.00" font-size="14.10"><tspan x="30.36" textLength="10.00" lengthAdjust="spacingAndGlyphs">−</tspan><tspan x="40.00" textLength="26.20" lengthAdjust="spacingAndGlyphs">100</tspan></text>
<text x="0.00" y="188.00" font-size="14.10"><tspan x="30.36" textLength="10.00" lengthAdjust="spacingAndGlyphs">−</tspan><tspan x="40.00" textLength="26.20" lengthAdjust="spacingAndGlyphs">120</tspan></text>
<text x="0.00" y="226.00" font-size="14.10"><tspan x="30.36" textLength="10.00" lengthAdjust="spacingAndGlyphs">−</tspan><tspan x="40.00" textLength="26.20" lengthAdjust="spacingAndGlyphs">140</tspan></text>
<text x="0.00" y="265.00" font-size="14.10"><tspan x="29.36" textLength="10.00" lengthAdjust="spacingAndGlyphs">−</tspan><tspan x="39.00" textLength="26.20" lengthAdjust="spacingAndGlyphs">160</tspan></text>
<text x="0.00" y="303.00" font-size="14.10"><tspan x="29.36" textLength="10.00" lengthAdjust="spacingAndGlyphs">−</tspan><tspan x="39.00" textLength="26.20" lengthAdjust="spacingAndGlyphs">180</tspan></text>
<text x="0.00" y="341.00" font-size="14.10"><tspan x="30.36" textLength="10.00" lengthAdjust="spacingAndGlyphs">−</tspan><tspan x="40.00" textLength="26.20" lengthAdjust="spacingAndGlyphs">200</tspan></text>
<text x="591.30" y="342.00" font-size="14.10" textLength="8.40" lengthAdjust="spacingAndGlyphs" xml:space="preserve">0</text>
<text x="591.30" y="324.00" font-size="14.10" textLength="8.40" lengthAdjust="spacingAndGlyphs" xml:space="preserve">5</text>
<text x="591.90" y="306.00" font-size="14.10" textLength="15.80" lengthAdjust="spacingAndGlyphs" xml:space="preserve">10</text>
<text x="591.90" y="288.00" font-size="14.10" textLength="15.80" lengthAdjust="spacingAndGlyphs" xml:space="preserve">15</text>
<text x="591.30" y="270.00" font-size="14.10" textLength="17.40" lengthAdjust="spacingAndGlyphs" xml:space="preserve">20</text>
<text x="591.30" y="252.00" font-size="14.10" textLength="16.40" lengthAdjust="spacingAndGlyphs" xml:space="preserve">25</text>
<text x="591.30" y="234.00" font-size="14.10" textLength="16.40" lengthAdjust="spacingAndGlyphs" xml:space="preserve">30</text>
<text x="15.60" y="269.40" font-size="14.30" transform="rotate(-90.00 15.60 269.40)"><tspan x="15.60" textLength="41.55" lengthAdjust="spacingAndGlyphs">Power</tspan><tspan x="60.82" textLength="5.96" lengthAdjust="spacingAndGlyphs">[</tspan></text>
<text x="15.60" y="217.30" font-size="14.30" textLength="63.50" lengthAdjust="spacingAndGlyphs" transform="rotate(-90.00 15.60 217.30)" xml:space="preserve"><tspan font-style="italic">m</tspan><tspan font-size="9.9" dy="-5.4">2</tspan><tspan dy="5.4">/</tspan><tspan font-style="italic">s</tspan><tspan font-size="9.9" dy="-5.4">4</tspan><tspan dy="5.4">/</tspan><tspan font-style="italic">Hz</tspan></text>
<text x="15.60" y="153.90" font-size="14.30" transform="rotate(-90.00 15.60 153.90)"><tspan x="15.60" textLength="5.82" lengthAdjust="spacingAndGlyphs">]</tspan><tspan x="24.99" textLength="28.62" lengthAdjust="spacingAndGlyphs">[dB]</tspan></text>
<text x="624.60" y="206.00" font-size="14.10" textLength="23.40" lengthAdjust="spacingAndGlyphs" transform="rotate(-90.00 624.60 206.00)" xml:space="preserve">[%]</text>
<text x="50.96" y="417.65" font-size="14.10" transform="rotate(-30.00 113.66 417.65)"><tspan x="50.96" textLength="40.60" lengthAdjust="spacingAndGlyphs">12-05</tspan><tspan x="95.56" textLength="18.20" lengthAdjust="spacingAndGlyphs">00</tspan></text>
<text x="101.87" y="417.65" font-size="14.10" transform="rotate(-30.00 164.57 417.65)"><tspan x="101.87" textLength="40.60" lengthAdjust="spacingAndGlyphs">12-05</tspan><tspan x="146.47" textLength="18.20" lengthAdjust="spacingAndGlyphs">03</tspan></text>
<text x="152.78" y="417.65" font-size="14.10" transform="rotate(-30.00 215.48 417.65)"><tspan x="152.78" textLength="40.60" lengthAdjust="spacingAndGlyphs">12-05</tspan><tspan x="197.38" textLength="18.20" lengthAdjust="spacingAndGlyphs">06</tspan></text>
<text x="203.69" y="417.65" font-size="14.10" transform="rotate(-30.00 266.39 417.65)"><tspan x="203.69" textLength="40.60" lengthAdjust="spacingAndGlyphs">12-05</tspan><tspan x="248.29" textLength="18.20" lengthAdjust="spacingAndGlyphs">09</tspan></text>
<text x="254.60" y="417.65" font-size="14.10" transform="rotate(-30.00 317.30 417.65)"><tspan x="254.60" textLength="40.60" lengthAdjust="spacingAndGlyphs">12-05</tspan><tspan x="299.20" textLength="18.20" lengthAdjust="spacingAndGlyphs">12</tspan></text>
<text x="305.50" y="417.65" font-size="14.10" transform="rotate(-30.00 368.20 417.65)"><tspan x="305.50" textLength="40.60" lengthAdjust="spacingAndGlyphs">12-05</tspan><tspan x="350.11" textLength="18.20" lengthAdjust="spacingAndGlyphs">15</tspan></text>
<text x="356.41" y="417.65" font-size="14.10" transform="rotate(-30.00 419.11 417.65)"><tspan x="356.41" textLength="40.60" lengthAdjust="spacingAndGlyphs">12-05</tspan><tspan x="401.01" textLength="18.20" lengthAdjust="spacingAndGlyphs">18</tspan></text>
<text x="407.32" y="417.65" font-size="14.10" transform="rotate(-30.00 470.02 417.65)"><tspan x="407.32" textLength="40.60" lengthAdjust="spacingAndGlyphs">12-05</tspan><tspan x="451.92" textLength="18.20" lengthAdjust="spacingAndGlyphs">21</tspan></text>
<text x="458.23" y="417.65" font-size="14.10" transform="rotate(-30.00 520.93 417.65)"><tspan x="458.23" textLength="40.60" lengthAdjust="spacingAndGlyphs">12-06</tspan><tspan x="502.83" textLength="18.20" lengthAdjust="spacingAndGlyphs">00</tspan></text>
</svg></body></html>
